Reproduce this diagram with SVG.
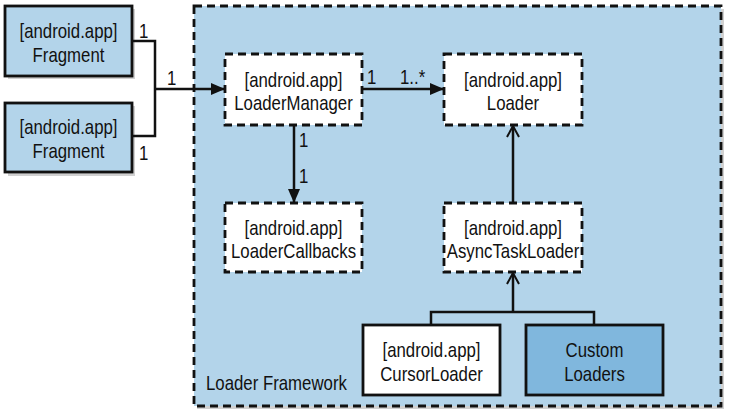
<svg xmlns="http://www.w3.org/2000/svg" width="731" height="416" viewBox="0 0 731 416">
<style>
text{font-family:"Liberation Sans",Arial,sans-serif;font-size:20px;fill:#111;text-anchor:middle}
.frag{fill:#b3d4ea;stroke:#111;stroke-width:2.8}
.dash{fill:#fff;stroke:#111;stroke-width:2.8;stroke-dasharray:8 5}
.solid{fill:#fff;stroke:#111;stroke-width:2.8}
.shadow{fill:#9a9a9a;opacity:0.45}
.line{fill:none;stroke:#111;stroke-width:2.5}
.lbl{text-anchor:start}
</style>
<defs>
<marker id="tri" markerWidth="14" markerHeight="12" refX="13" refY="6" orient="auto" markerUnits="userSpaceOnUse"><path d="M0,0 L14,6 L0,12 Z" fill="#111"/></marker>
<marker id="open" markerWidth="14" markerHeight="14" refX="12" refY="7" orient="auto" markerUnits="userSpaceOnUse"><path d="M1,1 L12,7 L1,13" fill="none" stroke="#111" stroke-width="2"/></marker>
</defs>
<g id="framework">
<rect class="shadow" x="197" y="9" width="527" height="400"/>
<rect x="194" y="6" width="527" height="400" fill="#b3d4ea" stroke="#111" stroke-width="2.8" stroke-dasharray="8 5"/>
<text class="lbl" transform="translate(206,390) scale(0.84,1)">Loader Framework</text>
</g>
<g id="fragment1">
<rect class="shadow" x="8" y="9" width="127" height="70"/>
<rect class="frag" x="5" y="6" width="127" height="70"/>
<text transform="translate(68.5,38) scale(0.84,1)">[android.app]</text><text transform="translate(68.5,62) scale(0.84,1)">Fragment</text>
</g>
<g id="fragment2">
<rect class="shadow" x="8" y="106" width="127" height="70"/>
<rect class="frag" x="5" y="103" width="127" height="69"/>
<text transform="translate(68.5,134) scale(0.84,1)">[android.app]</text><text transform="translate(68.5,158) scale(0.84,1)">Fragment</text>
</g>
<g id="loadermanager">
<rect class="dash" x="225" y="54" width="137" height="71"/>
<text transform="translate(293.5,87) scale(0.84,1)">[android.app]</text><text transform="translate(293.5,110) scale(0.84,1)">LoaderManager</text>
</g>
<g id="loader">
<rect class="dash" x="444" y="54" width="138" height="71"/>
<text transform="translate(513,87) scale(0.84,1)">[android.app]</text><text transform="translate(513,110) scale(0.84,1)">Loader</text>
</g>
<g id="loadercallbacks">
<rect class="dash" x="225" y="203" width="137" height="69"/>
<text transform="translate(293.5,235) scale(0.84,1)">[android.app]</text><text transform="translate(293.5,258) scale(0.84,1)">LoaderCallbacks</text>
</g>
<g id="asynctaskloader">
<rect class="dash" x="444" y="203" width="138" height="69"/>
<text transform="translate(513,235) scale(0.84,1)">[android.app]</text><text transform="translate(513,258) scale(0.84,1)">AsyncTaskLoader</text>
</g>
<g id="cursorloader">
<rect class="solid" x="363" y="325" width="137" height="70"/>
<text transform="translate(431.5,357) scale(0.84,1)">[android.app]</text><text transform="translate(431.5,381) scale(0.84,1)">CursorLoader</text>
</g>
<g id="customloaders">
<rect x="526" y="325" width="137" height="70" fill="#80b7dd" stroke="#111" stroke-width="2.8"/>
<text transform="translate(594.5,357) scale(0.84,1)">Custom</text><text transform="translate(594.5,381) scale(0.84,1)">Loaders</text>
</g>
<g id="connectors">
<polyline class="line" points="132,41 155,41 155,136 132,136"/>
<line class="line" x1="155" y1="89" x2="224" y2="89" marker-end="url(#tri)"/>
<line class="line" x1="362" y1="89" x2="443" y2="89" marker-end="url(#tri)"/>
<line class="line" x1="294" y1="125" x2="294" y2="202" marker-end="url(#tri)"/>
<line class="line" x1="513" y1="203" x2="513" y2="126" marker-end="url(#open)"/>
<line class="line" x1="513" y1="312" x2="513" y2="273" marker-end="url(#open)"/>
<polyline class="line" points="431,325 431,312 594,312 594,325"/>
<text class="lbl" transform="translate(139,38) scale(0.84,1)">1</text>
<text class="lbl" transform="translate(167,85) scale(0.84,1)">1</text>
<text class="lbl" transform="translate(139,160) scale(0.84,1)">1</text>
<text class="lbl" transform="translate(367,84) scale(0.84,1)">1</text>
<text class="lbl" transform="translate(400,84) scale(0.84,1)">1..*</text>
<text class="lbl" transform="translate(299,147) scale(0.84,1)">1</text>
<text class="lbl" transform="translate(299,183) scale(0.84,1)">1</text>
</g>
</svg>
